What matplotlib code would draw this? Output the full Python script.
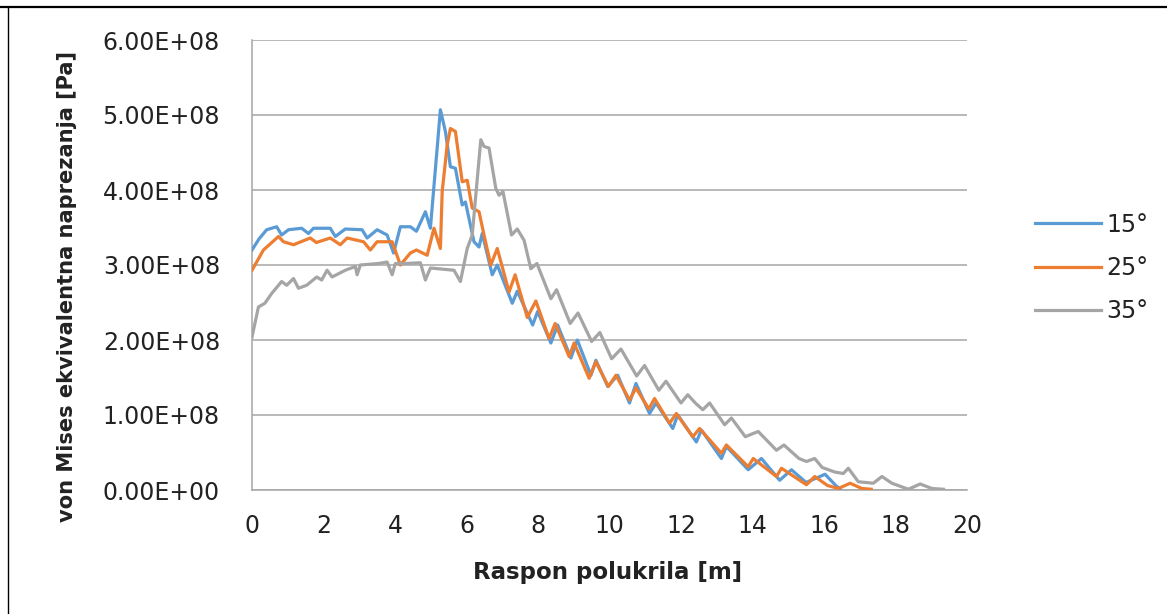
import matplotlib
matplotlib.use("Agg")
import matplotlib.pyplot as plt
import numpy as np
from matplotlib.lines import Line2D
from matplotlib.ticker import FuncFormatter

# raspon polukrila [m] i naprezanje [x1e8 Pa], ocitano sa slike
span_15 = [0.0, 0.2, 0.41, 0.69, 0.83, 1.02, 1.39, 1.58, 1.72, 2.19, 2.33, 2.61, 3.08, 3.22, 3.5,
           3.78, 3.96, 4.15, 4.43, 4.6, 4.85, 4.99, 5.27, 5.41, 5.55, 5.69, 5.88, 5.97, 6.21, 6.35,
           6.44, 6.72, 6.86, 7.28, 7.42, 7.85, 7.99, 8.36, 8.55, 8.92, 9.1, 9.48, 9.62, 9.95, 10.23,
           10.56, 10.74, 11.12, 11.3, 11.77, 11.91, 12.43, 12.57, 13.13, 13.27, 13.88, 14.25, 14.76,
           15.09, 15.5, 16.03, 16.35, 16.45]
stress_15 = [3.2, 3.35, 3.47, 3.51, 3.4, 3.47, 3.49, 3.42, 3.49, 3.49, 3.38, 3.48, 3.47, 3.36, 3.47,
             3.4, 3.16, 3.51, 3.51, 3.45, 3.71, 3.49, 5.07, 4.78, 4.31, 4.29, 3.8, 3.84, 3.31, 3.24,
             3.42, 2.87, 3.0, 2.49, 2.65, 2.2, 2.38, 1.96, 2.2, 1.76, 2.0, 1.53, 1.73, 1.38, 1.53,
             1.16, 1.42, 1.02, 1.16, 0.82, 1.0, 0.64, 0.8, 0.42, 0.58, 0.27, 0.42, 0.13,
             0.27, 0.1, 0.21, 0.05, 0.02]

span_25 = [0.0, 0.32, 0.74, 0.88, 1.16, 1.63, 1.8, 2.19, 2.47, 2.66, 3.12, 3.31, 3.5, 3.92, 4.15,
           4.43, 4.6, 4.9, 5.09, 5.27, 5.32, 5.46, 5.55, 5.69, 5.88, 6.02, 6.16, 6.35, 6.49, 6.68,
           6.86, 7.19, 7.36, 7.7, 7.94, 8.31, 8.48, 8.87, 9.01, 9.43, 9.62, 9.97, 10.18, 10.56, 10.74,
           11.1, 11.26, 11.68, 11.87, 12.33, 12.52, 13.13, 13.27, 13.88, 14.02, 14.67, 14.81, 15.51,
           15.74, 16.1, 16.4, 16.73, 17.06, 17.32]
stress_25 = [2.93, 3.2, 3.38, 3.31, 3.27, 3.36, 3.3, 3.36, 3.27, 3.36, 3.31, 3.2, 3.31, 3.31, 3.0,
             3.16, 3.2, 3.13, 3.49, 3.22, 3.98, 4.6, 4.82, 4.78, 4.11, 4.13, 3.76, 3.71, 3.4, 3.0,
             3.22, 2.64, 2.87, 2.3, 2.52, 2.02, 2.22, 1.78, 1.96, 1.49, 1.71, 1.38, 1.53, 1.2, 1.36,
             1.08, 1.22, 0.89, 1.02, 0.71, 0.82, 0.49, 0.6, 0.31, 0.42, 0.18, 0.29, 0.07,
             0.18, 0.06, 0.02, 0.09, 0.02, 0.01]

span_35 = [0.0, 0.18, 0.36, 0.55, 0.83, 0.97, 1.16, 1.3, 1.53, 1.81, 1.95, 2.1, 2.24, 2.61, 2.89,
           2.94, 3.03, 3.54, 3.78, 3.92, 4.01, 4.29, 4.71, 4.85, 4.99, 5.65, 5.83, 6.02, 6.16, 6.26,
           6.4, 6.49, 6.63, 6.82, 6.91, 7.02, 7.26, 7.42, 7.61, 7.8, 7.97, 8.36, 8.52, 8.9, 9.12,
           9.5, 9.73, 10.06, 10.32, 10.76, 10.98, 11.38, 11.58, 12.0, 12.19, 12.4, 12.61, 12.8, 13.22,
           13.41, 13.8, 14.0, 14.16, 14.67, 14.88, 15.3, 15.51, 15.74, 15.95, 16.3, 16.54, 16.68,
           16.96, 17.38, 17.62, 17.9, 18.36, 18.69, 19.02, 19.34]
stress_35 = [2.04, 2.44, 2.49, 2.62, 2.78, 2.73, 2.82, 2.69, 2.73, 2.84, 2.8, 2.93, 2.84, 2.93, 2.98,
             2.87, 3.0, 3.02, 3.04, 2.87, 3.02, 3.02, 3.03, 2.8, 2.96, 2.93, 2.78, 3.22, 3.4, 3.93,
             4.67, 4.58, 4.56, 4.02, 3.93, 3.98, 3.4, 3.48, 3.33, 2.95, 3.02, 2.55, 2.67, 2.22, 2.36,
             1.98, 2.1, 1.75, 1.88, 1.52, 1.66, 1.33, 1.45, 1.16, 1.27, 1.16, 1.07, 1.16, 0.87,
             0.96, 0.71, 0.75, 0.78, 0.53, 0.6, 0.42, 0.38, 0.42, 0.3, 0.24, 0.22, 0.29,
             0.11, 0.09, 0.18, 0.09, 0.01, 0.08, 0.02, 0.01]

labels = ["15°", "25°", "35°"]
colors = ["#5B9BD5", "#ED7D31", "#A5A5A5"]

plt.rcParams["font.family"] = ["DejaVu Sans"]

fig = plt.figure(figsize=(11.67, 6.14), dpi=100)
ax = fig.add_axes([252 / 1167, 1 - 490 / 614, 715 / 1167, 450 / 614])

series = [(span_15, stress_15), (span_25, stress_25), (span_35, stress_35)]
handles = []
for (xs, ys), lab, col in zip(series, labels, colors):
    (ln,) = ax.plot(xs, np.array(ys) * 1e8, color=col, lw=2.3, label=lab,
                    solid_joinstyle="round", zorder=3)
    handles.append(ln)

ax.set_xlim(0, 20)
ax.set_ylim(0, 6e8)
ax.set_xticks(np.arange(0, 21, 2))
ax.set_yticks(np.arange(0, 6.01e8, 1e8))
ax.yaxis.set_major_formatter(FuncFormatter(lambda v, p: f"{v:.2E}"))
ax.grid(axis="y", color="#A6A6A6", lw=1.1)
ax.set_axisbelow(True)
for s in ["top", "right"]:
    ax.spines[s].set_visible(False)
for s in ["left", "bottom"]:
    ax.spines[s].set_color("#A6A6A6")
    ax.spines[s].set_linewidth(1.1)
ax.tick_params(axis="both", length=0, labelsize=17, colors="#222222")
ax.tick_params(axis="y", pad=23)
ax.tick_params(axis="x", pad=17)

fig.text(608 / 1167, 1 - 573 / 614, "Raspon polukrila [m]", ha="center", va="center",
         fontsize=16.5, fontweight="bold", color="#222222")
fig.text(67 / 1167, 1 - 287 / 614, "von Mises ekvivalentna naprezanja [Pa]", ha="center",
         va="center", rotation=90, fontsize=15.1, fontweight="bold", color="#222222")

leg = fig.legend(handles=handles, labels=labels, loc="center left",
                 bbox_to_anchor=(1014 / 1167, 1 - 268 / 614), frameon=False,
                 fontsize=17, handlelength=2.8, handletextpad=0.2, labelspacing=0.82)
for t in leg.get_texts():
    t.set_color("#222222")

# okvir stranice
fig.add_artist(Line2D([0, 1], [1 - 7 / 614, 1 - 7 / 614], color="black", lw=1.6,
                      transform=fig.transFigure))
fig.add_artist(Line2D([8 / 1167, 8 / 1167], [0, 1 - 7 / 614], color="black", lw=1.0,
                      transform=fig.transFigure))

fig.savefig("out.png", dpi=100)
